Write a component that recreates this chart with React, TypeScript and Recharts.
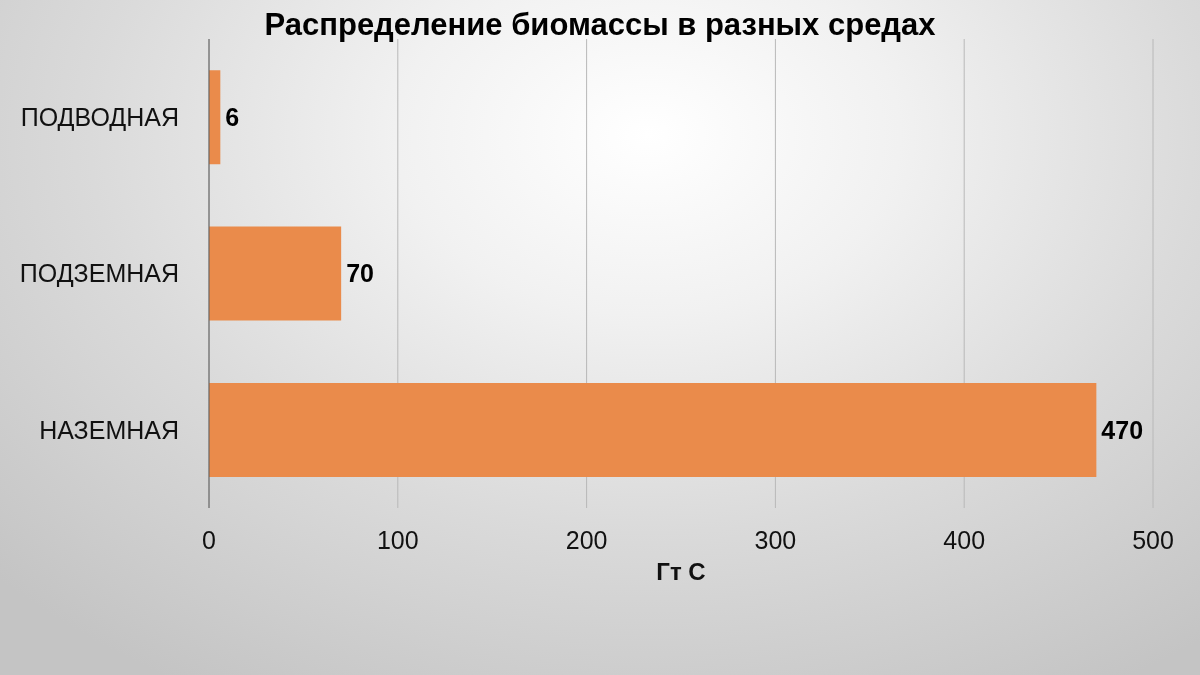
import { BarChart, Bar, XAxis, YAxis, CartesianGrid, LabelList } from 'recharts'

// ─── Data ─────────────────────────────────────────────────────────────────────

const CATEGORIES = ['ПОДВОДНАЯ', 'ПОДЗЕМНАЯ', 'НАЗЕМНАЯ']
const BIOMASS = [6, 70, 470]
const X_TICKS = [0, 100, 200, 300, 400, 500]

const TITLE = 'Распределение биомассы в разных средах'
const X_LABEL = 'Гт С'

const FONT = '"Liberation Sans", Arial, sans-serif'
const BAR_COLOR = '#EA8B4B'

const data = CATEGORIES.map((name, i) => ({ name, value: BIOMASS[i] }))

// ─── Component ────────────────────────────────────────────────────────────────

export default function App() {
  return (
    <div
      style={{
        position: 'fixed',
        left: 0,
        top: 0,
        width: 1200,
        height: 675,
        fontFamily: FONT,
        background:
          'radial-gradient(ellipse 75% 95% at 54% 20%, #ffffff 0%, #f1f1f1 28%, #dadada 62%, #c4c4c4 100%)',
      }}
    >
      {/* Title */}
      <div
        style={{
          position: 'absolute',
          top: 7,
          left: 0,
          width: 1200,
          textAlign: 'center',
          fontSize: 31,
          fontWeight: 'bold',
          color: '#000',
        }}
      >
        {TITLE}
      </div>

      <BarChart
        width={1200}
        height={675}
        data={data}
        layout="vertical"
        margin={{ top: 39, right: 47, left: 0, bottom: 87 }}
        barCategoryGap="20%"
        style={{ position: 'absolute', left: 0, top: 0 }}
      >
        <CartesianGrid horizontal={false} stroke="#b8b8b8" strokeWidth={1} />
        <XAxis
          type="number"
          domain={[0, 500]}
          ticks={X_TICKS}
          axisLine={false}
          tickLine={false}
          tickSize={0}
          tickMargin={23}
          height={80}
          tick={{ fill: '#111', fontSize: 25, fontFamily: FONT }}
          label={{
            value: X_LABEL,
            position: 'insideBottom',
            offset: 8,
            fill: '#111',
            fontSize: 24,
            fontWeight: 'bold',
            fontFamily: FONT,
          }}
        />
        <YAxis
          type="category"
          dataKey="name"
          width={209}
          axisLine={{ stroke: '#5a5a5a', strokeWidth: 1 }}
          tickLine={false}
          tickSize={0}
          tickMargin={30}
          tick={{ fill: '#111', fontSize: 25, fontFamily: FONT }}
        />
        <Bar dataKey="value" fill={BAR_COLOR} isAnimationActive={false}>
          <LabelList
            dataKey="value"
            position="right"
            offset={5}
            fill="#000"
            fontSize={25}
            fontWeight="bold"
            fontFamily={FONT}
          />
        </Bar>
      </BarChart>
    </div>
  )
}
